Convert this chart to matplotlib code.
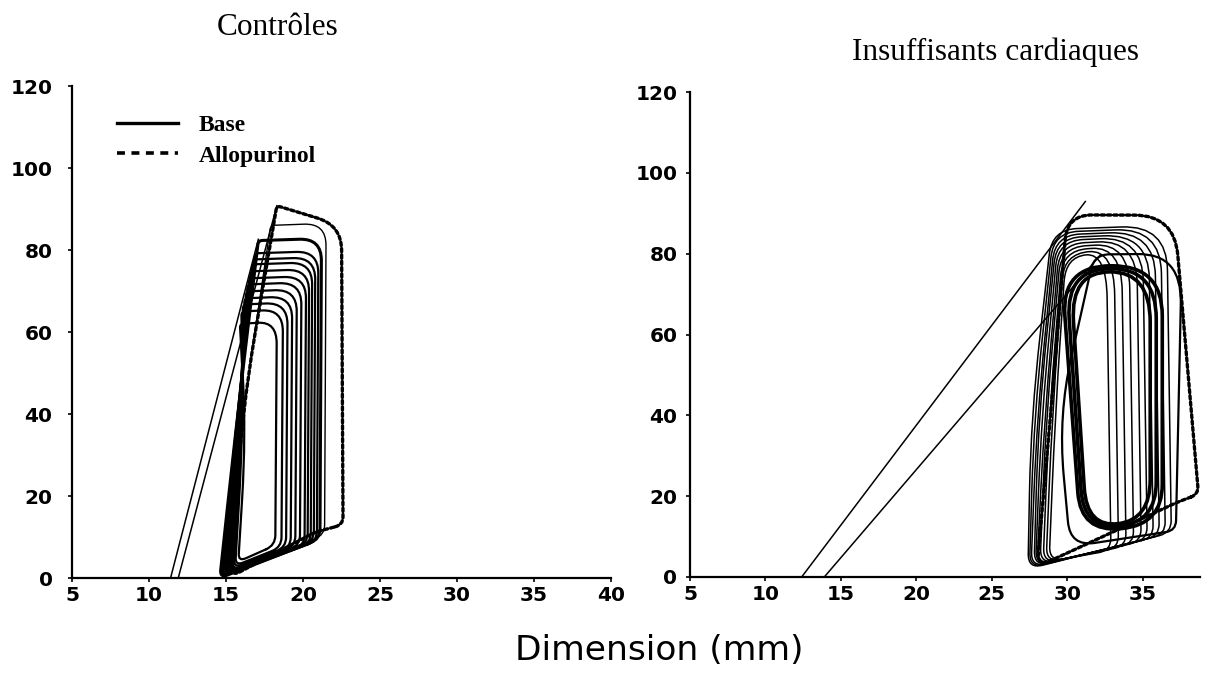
import numpy as np
import matplotlib
matplotlib.use('Agg')
import matplotlib.pyplot as plt
from matplotlib.path import Path
from matplotlib.patches import PathPatch
from matplotlib.lines import Line2D
from matplotlib.font_manager import FontProperties

# ---------------- data ----------------
# Contrôles: successive loops, outer -> inner (Base)
ctl_top_y = [86.5, 82.8, 79.7, 78.2, 77.0, 75.3, 73.6, 72.1, 70.4, 68.7, 67.2, 65.5, 62.5]
ctl_edd_x = [21.5, 21.2, 21.0, 20.8, 20.6, 20.4, 20.2, 19.9, 19.6, 19.3, 19.0, 18.7, 18.3]
ctl_edp_y = [10.5, 9.5, 9.0, 9.0, 8.5, 8.5, 8.0, 8.0, 7.8, 7.5, 7.5, 7.5, 8.0]
ctl_esd_x = [17.9, 17.1, 16.9, 16.8, 16.7, 16.6, 16.5, 16.4, 16.3, 16.2, 16.1, 16.0, 15.9]
ctl_mid_x = [15.9, 15.6, 15.6, 15.6, 15.7, 15.7, 15.7, 15.8, 15.8, 15.9, 16.0, 16.1, 16.3]
ctl_min_x = [15.0, 14.6, 14.7, 14.8, 14.9, 15.0, 15.1, 15.2, 15.3, 15.4, 15.5, 15.6, 15.8]
ctl_min_y = [1.0, 0.0, 0.3, 0.5, 0.8, 1.0, 1.3, 1.5, 1.8, 2.0, 2.5, 3.0, 4.0]
# Contrôles, Allopurinol loop corners (ED, top-right, ES, left-mid, bottom-left, hook)
ctl_allo_x = [22.6, 22.5, 18.3, 16.0, 15.4, 20.8]
ctl_allo_y = [13.0, 86.0, 90.8, 40.0, 0.5, 11.2]
# Contrôles ESPVR lines
ctl_espvr_x0 = [11.4, 11.9]
ctl_espvr_x1 = [17.1, 18.3]
ctl_espvr_y1 = [82.6, 90.8]

# Insuffisants cardiaques: thin loops, outer -> inner
hf_top_y = [87.0, 86.3, 85.6, 84.9, 84.2, 83.4, 82.6, 81.8, 81.0, 80.2]
hf_edd_x = [36.9, 36.5, 36.1, 35.7, 35.3, 34.9, 34.4, 33.9, 33.4, 32.9]
hf_edp_y = [11.0, 10.6, 10.2, 9.7, 9.3, 8.8, 8.3, 7.7, 7.2, 6.6]
hf_esd_x = [29.0, 29.1, 29.2, 29.3, 29.4, 29.5, 29.6, 29.7, 29.8, 29.9]
hf_mid_x = [27.6, 27.8, 28.0, 28.1, 28.3, 28.5, 28.6, 28.8, 29.0, 29.2]
hf_min_x = [27.4, 27.5, 27.6, 27.8, 27.9, 28.0, 28.2, 28.4, 28.6, 28.8]
hf_min_y = [2.0, 2.2, 2.4, 2.6, 2.8, 3.0, 3.2, 3.4, 3.6, 3.8]
# thick inner loops
hf_ov_top_y = [77.0, 76.3, 75.5]
hf_ov_right_x = [36.3, 35.9, 35.5]
hf_ov_left_x = [29.6, 29.9, 30.2]
hf_ov_low_x = [30.9, 31.1, 31.3]
hf_ov_bot_y = [11.0, 11.6, 12.2]
# large thin loop (ED, top-right, ES, left-mid, bottom-left)
hf_big_x = [37.2, 37.6, 31.8, 29.4, 30.2]
hf_big_y = [11.5, 80.0, 79.8, 40.0, 7.5]
# Allopurinol loop (ED, top-right, ES, left-mid, bottom-left, hook)
hf_allo_x = [38.7, 37.1, 30.0, 28.9, 28.0, 37.3]
hf_allo_y = [20.5, 89.5, 89.6, 40.0, 2.5, 18.5]
# ESPVR lines
hf_espvr_x0 = [12.4, 13.9]
hf_espvr_x1 = [31.2, 32.2]
hf_espvr_y1 = [92.9, 79.7]

xticks_ctl = [5, 10, 15, 20, 25, 30, 35, 40]
xticks_hf = [5, 10, 15, 20, 25, 30, 35]
yticks = [0, 20, 40, 60, 80, 100, 120]

# ---------------- drawing ----------------
fig = plt.figure(figsize=(12.09, 6.84), dpi=100)
ax1 = fig.add_axes([72 / 1209, 106 / 684, 539 / 1209, 492 / 684])
ax2 = fig.add_axes([690 / 1209, 107 / 684, 510 / 1209, 485 / 684])

TICK_FONT = dict(family='DejaVu Sans', size=14.5, weight='bold')


def style_axes(ax, xlim, xticks, ypad):
    ax.set_xlim(*xlim)
    ax.set_ylim(0, 120)
    ax.set_xticks(xticks)
    ax.set_yticks(yticks)
    for s in ['top', 'right']:
        ax.spines[s].set_visible(False)
    for s in ['left', 'bottom']:
        ax.spines[s].set_linewidth(1.6)
    ax.tick_params(axis='both', direction='out', length=3, width=1.2, colors='black')
    ax.tick_params(axis='x', pad=3)
    ax.tick_params(axis='y', pad=ypad)
    for lab in ax.get_xticklabels() + ax.get_yticklabels():
        lab.set_fontfamily(TICK_FONT['family'])
        lab.set_fontsize(TICK_FONT['size'])
        lab.set_fontweight(TICK_FONT['weight'])


style_axes(ax1, (5, 40), xticks_ctl, 11)
style_axes(ax2, (5, 38.8), xticks_hf, 6)


def rounded_loop(ax, xs, ys, rads, **kw):
    pts = ax.transData.transform(np.column_stack([xs, ys]))
    n = len(pts)
    verts, codes = [], []
    first = None
    for i in range(n):
        c = pts[i]
        p_prev = pts[i - 1]
        p_next = pts[(i + 1) % n]
        d1 = p_prev - c
        d2 = p_next - c
        l1 = np.hypot(*d1)
        l2 = np.hypot(*d2)
        r = rads[i]
        e = c + d1 / l1 * min(r, 0.5 * l1)
        x = c + d2 / l2 * min(r, 0.5 * l2)
        if i == 0:
            verts.append(e)
            codes.append(Path.MOVETO)
            first = e
        else:
            verts.append(e)
            codes.append(Path.LINETO)
        verts += [c, x]
        codes += [Path.CURVE3, Path.CURVE3]
    verts.append(first)
    codes.append(Path.LINETO)
    verts = ax.transData.inverted().transform(np.array(verts))
    patch = PathPatch(Path(verts, codes), fill=False, edgecolor='black',
                      clip_on=False, capstyle='round', joinstyle='round', **kw)
    ax.add_patch(patch)
    return patch


dotted = (0, (1.0, 0.9))

# --- Contrôles ---
for i in range(len(ctl_top_y)):
    xs = [ctl_edd_x[i] - 0.1, ctl_edd_x[i], ctl_esd_x[i], ctl_mid_x[i], ctl_min_x[i]]
    ys = [ctl_edp_y[i], ctl_top_y[i], ctl_top_y[i] - 0.5, 35.0, ctl_min_y[i]]
    lw = 1.0 if i == 0 else (2.2 if i == 1 else 1.6)
    rounded_loop(ax1, xs, ys, [10, 22, 4, 80, 8], lw=lw)
rounded_loop(ax1, ctl_allo_x, ctl_allo_y, [8, 25, 4, 80, 8, 6], lw=2.4, linestyle=dotted)
for x0, x1, y1 in zip(ctl_espvr_x0, ctl_espvr_x1, ctl_espvr_y1):
    ax1.plot([x0, x1], [0, y1], color='black', lw=1.1, clip_on=False)

# --- Insuffisants cardiaques ---
for i in range(len(hf_top_y)):
    xs = [hf_edd_x[i], hf_edd_x[i] - 0.3, hf_esd_x[i], hf_mid_x[i], hf_min_x[i]]
    ys = [hf_edp_y[i], hf_top_y[i], hf_top_y[i] - 1.0, 40.0, hf_min_y[i]]
    rounded_loop(ax2, xs, ys, [12, 45, 25, 80, 15], lw=1.1)
for i in range(len(hf_ov_top_y)):
    xs = [hf_ov_right_x[i], hf_ov_right_x[i], hf_ov_left_x[i], hf_ov_low_x[i]]
    ys = [hf_ov_bot_y[i] + 2.0, hf_ov_top_y[i], hf_ov_top_y[i], hf_ov_bot_y[i]]
    rounded_loop(ax2, xs, ys, [40, 50, 50, 40], lw=2.6)
rounded_loop(ax2, hf_big_x, hf_big_y, [10, 50, 15, 60, 25], lw=1.6)
rounded_loop(ax2, hf_allo_x, hf_allo_y, [8, 40, 25, 80, 15, 6], lw=2.4, linestyle=dotted)
for x0, x1, y1 in zip(hf_espvr_x0, hf_espvr_x1, hf_espvr_y1):
    ax2.plot([x0, x1], [0, y1], color='black', lw=1.1, clip_on=False)

# --- legend ---
handles = [Line2D([], [], color='black', lw=2.4, ls='-'),
           Line2D([], [], color='black', lw=2.6, ls=(0, (2.2, 1.8)))]
ax1.legend(handles, ['Base', 'Allopurinol'], loc='center left',
           bbox_to_anchor=((117 - 72) / 539, (578 - 140.5) / 492),
           frameon=False, borderpad=0, borderaxespad=0,
           handlelength=2.6, handletextpad=0.85, labelspacing=0.4,
           prop=FontProperties(family='Liberation Serif', weight='bold', size=17))

# --- titles & axis label ---
fig.text(278 / 1209, 1 - 35 / 684, 'Contrôles', ha='center', va='baseline',
         family='Liberation Serif', fontsize=22.5)
fig.text(996 / 1209, 1 - 60 / 684, 'Insuffisants cardiaques', ha='center', va='baseline',
         family='Liberation Serif', fontsize=22.5)
fig.text(659 / 1209, 1 - 660 / 684, 'Dimension (mm)', ha='center', va='baseline',
         family='DejaVu Sans', fontsize=24.8)

fig.savefig('out.png', dpi=100)
